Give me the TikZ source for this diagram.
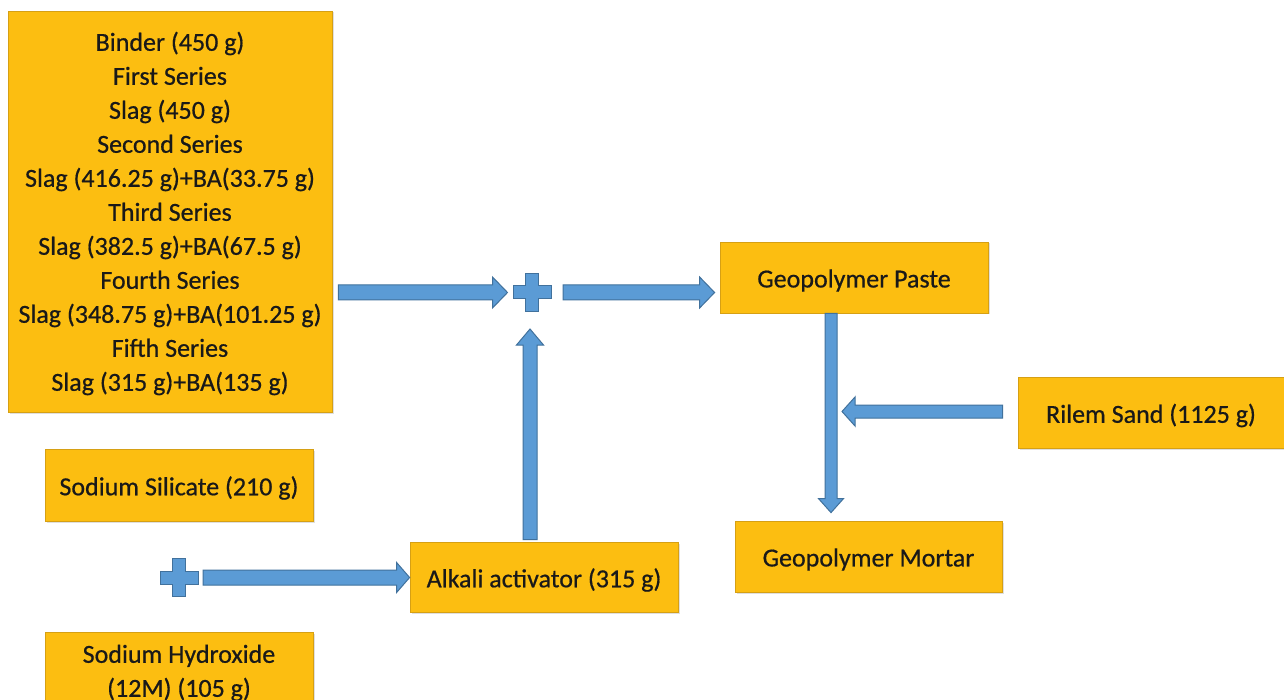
\documentclass[tikz,border=0pt]{standalone}
\usepackage{fontspec}
\setmainfont{Carlito}
\newfontfamily\boxfont{Carlito}[FakeBold=0.6]
\usetikzlibrary{calc,shadows}
\definecolor{gold}{RGB}{252,190,17}
\definecolor{golde}{RGB}{214,160,20}
\definecolor{abl}{RGB}{91,155,213}
\definecolor{abd}{RGB}{65,113,156}
\tikzset{
  box/.style={draw=golde, line width=0.8pt, fill=gold, inner sep=0pt,
    drop shadow={shadow xshift=1.5pt, shadow yshift=-1.5pt, opacity=0.25}},
  txt/.style={align=center, inner sep=0pt, text=black!90,
    font=\boxfont\fontsize{26}{34}\selectfont},
  barr/.style={fill=abl, draw=abd, line width=1pt, line join=miter}
}
\newcommand\barrow[5]{%
  \coordinate (hb) at ($(#2)!#5pt!(#1)$);
  \draw[barr] ($(#1)!#3pt!90:(#2)$) -- ($(hb)!#3pt!90:(#2)$) -- ($(hb)!#4pt!90:(#2)$) -- (#2)
    -- ($(hb)!#4pt!-90:(#2)$) -- ($(hb)!#3pt!-90:(#2)$) -- ($(#1)!#3pt!-90:(#2)$) -- cycle;}
\newcommand\plusat[1]{%
  \draw[barr] ([shift={(-19,-6.5)}]#1) -- ++(12.5,0) -- ++(0,-12.5) -- ++(13,0) -- ++(0,12.5)
    -- ++(12.5,0) -- ++(0,13) -- ++(-12.5,0) -- ++(0,12.5) -- ++(-13,0) -- ++(0,-12.5)
    -- ++(-12.5,0) -- cycle;}
\begin{document}
\begin{tikzpicture}[x=1pt,y=-1pt]
\clip (0,0) rectangle (1284,700);
\fill[white] (0,0) rectangle (1284,700);

\node[box, minimum width=324pt, minimum height=401pt] (binder) at (170,211.5) {};
\node[txt] (binderT) at ($(binder)+(0,2)$)
  {Binder (450 g)\\First Series\\Slag (450 g)\\Second Series\\Slag (416.25 g)+BA(33.75 g)\\Third Series\\Slag (382.5 g)+BA(67.5 g)\\Fourth Series\\Slag (348.75 g)+BA(101.25 g)\\Fifth Series\\Slag (315 g)+BA(135 g)};
\node[box, minimum width=268pt, minimum height=72pt] (silicate) at (179,485) {};
\node[txt] (silicateT) at ($(silicate)+(0,3)$) {Sodium Silicate (210 g)};
\node[box, minimum width=268pt, minimum height=78pt] (hydroxide) at (179,671) {};
\node[txt] (hydroxideT) at ($(hydroxide)+(0,2)$) {Sodium Hydroxide\\(12M) (105 g)};
\node[box, minimum width=268pt, minimum height=70pt] (alkali) at (544,577) {};
\node[txt] (alkaliT) at ($(alkali)+(0,3)$) {Alkali activator (315 g)};
\node[box, minimum width=268pt, minimum height=71pt] (paste) at (854,277.5) {};
\node[txt] (pasteT) at ($(paste)+(0,3)$) {Geopolymer Paste};
\node[box, minimum width=266pt, minimum height=71pt] (rilem) at (1151,412.5) {};
\node[txt] (rilemT) at ($(rilem)+(0,3)$) {Rilem Sand (1125 g)};
\node[box, minimum width=267pt, minimum height=71pt] (mortar) at (868.5,556.5) {};
\node[txt] (mortarT) at ($(mortar)+(0,3)$) {Geopolymer Mortar};

\coordinate (plus1) at (532,292.5);
\coordinate (plus2) at (179,577.5);
\plusat{plus1}
\plusat{plus2}

% binder -> plus1
\coordinate (a1s) at ($(binder.east |- plus1)+(6,0)$);
\coordinate (a1t) at ($(plus1)+(-24.5,0)$);
\barrow{a1s}{a1t}{7.5}{15.5}{15}
% plus1 -> paste
\coordinate (a2s) at ($(plus1)+(31,0)$);
\coordinate (a2t) at ($(paste.west |- plus1)+(-5,0)$);
\barrow{a2s}{a2t}{7.5}{15.5}{15}
% alkali -> plus1
\coordinate (a3s) at ($(plus1 |- alkali.north)+(-2,-2)$);
\coordinate (a3t) at ($(plus1)+(-2,36.5)$);
\barrow{a3s}{a3t}{7}{13.5}{16}
% plus2 -> alkali
\coordinate (a4s) at ($(plus2)+(24,0)$);
\coordinate (a4t) at (alkali.west |- plus2);
\barrow{a4s}{a4t}{7.5}{15}{13}
% paste -> mortar
\coordinate (a5s) at ($(paste.south)+(-23,0)$);
\coordinate (a5t) at ($(a5s |- mortar.north)+(0,-8)$);
\barrow{a5s}{a5t}{6}{12.5}{14}
% rilem -> vertical arrow
\coordinate (a6s) at ($(rilem.west)+(-15,-1)$);
\coordinate (a6t) at ($(a5s |- a6s)+(11,0)$);
\barrow{a6s}{a6t}{6.5}{14.5}{13}
\end{tikzpicture}
\end{document}
